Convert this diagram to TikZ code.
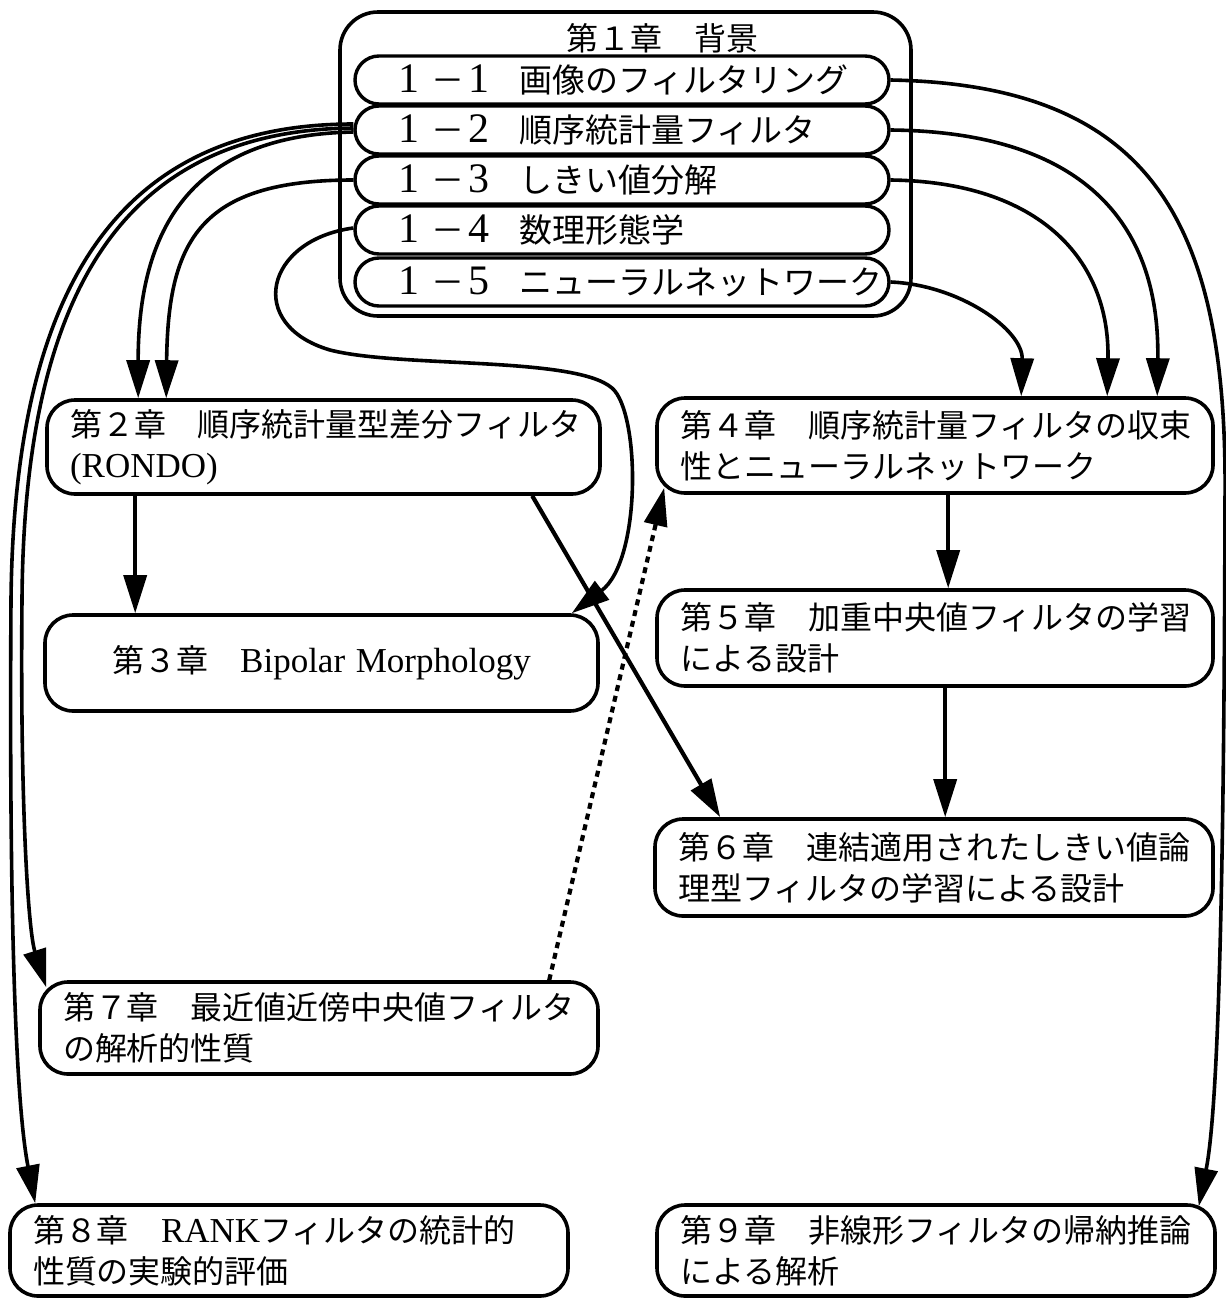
\documentclass[tikz,border=0pt]{standalone}
\usepackage{fontspec}
\setmainfont{Noto Sans CJK JP}
\newfontfamily\lat{Liberation Serif}
\usetikzlibrary{arrows.meta,calc}
\newcommand{\pnum}[1]{{\fontsize{42}{40}\lat #1}}
\begin{document}
\begin{tikzpicture}[x=1pt,y=-1pt,
  chap/.style={draw, line width=3.6pt, rounded corners=28pt, align=left, inner xsep=23pt, inner ysep=0pt, font=\fontsize{32}{41}\selectfont, fill=white},
  pill/.style={draw, line width=3.4pt, rounded corners=24pt, minimum width=534pt, minimum height=48pt, text width=500pt, inner xsep=17pt, inner ysep=0pt, align=left, font=\fontsize{33}{40}\selectfont},
  conn/.style={line width=3.6pt, -{Triangle[length=38pt,width=23pt]}},
  ]
\useasboundingbox (0,0) rectangle (1226,1299);
\fill[white] (0,0) rectangle (1226,1299);

% chapter 1 frame
\node[draw, line width=3.6pt, rounded corners=38pt, minimum width=571pt, minimum height=304pt] (c1) at (625.5,164) {};
\node[font=\fontsize{32}{40}\selectfont, inner sep=0pt] (t1) at (662,38) {第１章　背景};
\node[pill] (p1) at (622,80) {\mbox{\hspace*{26pt}\pnum{1}\hspace{12pt}－\hspace{4pt}\pnum{1}\hspace{30pt}画像のフィルタリング}};
\node[pill] (p2) at (622,130) {\mbox{\hspace*{26pt}\pnum{1}\hspace{12pt}－\hspace{4pt}\pnum{2}\hspace{30pt}順序統計量フィルタ}};
\node[pill] (p3) at (622,180) {\mbox{\hspace*{26pt}\pnum{1}\hspace{12pt}－\hspace{4pt}\pnum{3}\hspace{30pt}しきい値分解}};
\node[pill] (p4) at (622,230) {\mbox{\hspace*{26pt}\pnum{1}\hspace{12pt}－\hspace{4pt}\pnum{4}\hspace{30pt}数理形態学}};
\node[pill] (p5) at (622,282) {\mbox{\hspace*{26pt}\pnum{1}\hspace{12pt}－\hspace{4pt}\pnum{5}\hspace{30pt}ニューラルネットワーク}};

% chapter boxes
\node[chap, text width=507pt, minimum height=94pt] (c2) at (323.5,447) {\mbox{第２章　順序統計量型差分フィルタ}\\\mbox{\fontsize{35}{41}\lat (RONDO)}};
\node[chap, align=center, text width=507pt, minimum height=96pt] (c3) at (321.5,663) {\mbox{第３章　{\fontsize{35}{41}\lat Bipolar Morphology}}};
\node[chap, text width=510pt, minimum height=95pt] (c4) at (935,445.5) {\mbox{第４章　順序統計量フィルタの収束}\\\mbox{性とニューラルネットワーク}};
\node[chap, text width=510pt, minimum height=96pt] (c5) at (935,638) {\mbox{第５章　加重中央値フィルタの学習}\\\mbox{による設計}};
\node[chap, text width=512pt, minimum height=97pt] (c6) at (934,867.5) {\mbox{第６章　連結適用されたしきい値論}\\\mbox{理型フィルタの学習による設計}};
\node[chap, text width=512pt, minimum height=92pt] (c7) at (319,1028) {\mbox{第７章　最近値近傍中央値フィルタ}\\\mbox{の解析的性質}};
\node[chap, text width=512pt, minimum height=91pt] (c8) at (289,1250.5) {\mbox{第８章　{\fontsize{35}{41}\lat RANK}フィルタの統計的}\\\mbox{性質の実験的評価}};
\node[chap, text width=512pt, minimum height=91pt] (c9) at (936,1250.5) {\mbox{第９章　非線形フィルタの帰納推論}\\\mbox{による解析}};

% connectors, left side
\draw[conn] ($(p2.west)+(0,-6)$) .. controls (110,124) and (14,300) .. (11,600)
   .. controls (9,900) and (15,1100) .. ($(c8.north west)+(27,0)$);
\draw[conn] ($(p2.west)+(0,-2)$) .. controls (118,130) and (24,300) .. (22,600)
   .. controls (20,800) and (28,930) .. ($(c7.north west)+(8,7)$);
\draw[conn] ($(p2.west)+(0,2)$) .. controls (190,135) and (138,230) .. ($(c2.north west)+(93,0)$);
\draw[conn] (p3.west) .. controls (200,180) and (168,240) .. ($(c2.north west)+(121,0)$);
\draw[conn] ($(p4.west)+(0,-2)$) .. controls (265,240) and (245,325) .. (330,350)
   .. controls (400,368) and (575,356) .. (612,388)
   .. controls (640,412) and (642,560) .. ($(c3.north east)+(-28,0)$);

% connectors, right side
\draw[conn] (p1.east) .. controls (1150,85) and (1228,220) .. (1225,500)
   .. controls (1224,900) and (1218,1110) .. ($(c9.north east)+(-18,3)$);
\draw[conn] (p2.east) .. controls (1080,132) and (1160,220) .. ($(c4.north west)+(502,0)$);
\draw[conn] (p3.east) .. controls (1040,182) and (1110,260) .. ($(c4.north west)+(452,0)$);
\draw[conn] (p5.east) .. controls (960,285) and (1023,330) .. ($(c4.north west)+(366,0)$);

% connectors between chapters
\draw[conn] ($(c2.south west)+(90,0)$) -- ($(c3.north west)+(92,0)$);
\draw[conn, line width=4.2pt] ($(c2.south west)+(487,0)$) -- ($(c6.north west)+(67,0)$);
\draw[conn, line width=4.2pt, dash pattern=on 6pt off 5pt] ($(c7.north west)+(511,0)$) -- ($(c4.south west)+(9,-7)$);
\draw[conn] ($(c4.south west)+(293,0)$) -- ($(c5.north west)+(293,0)$);
\draw[conn] ($(c5.south west)+(290,0)$) -- ($(c6.north west)+(292,0)$);
\end{tikzpicture}
\end{document}
